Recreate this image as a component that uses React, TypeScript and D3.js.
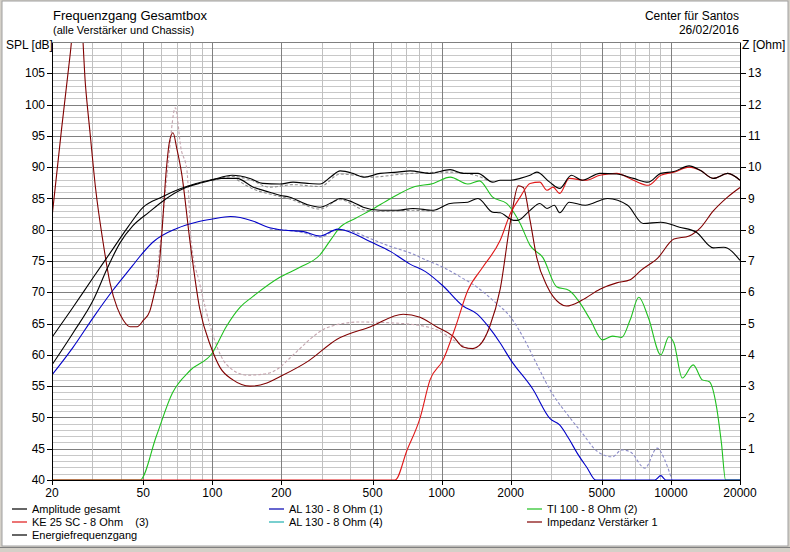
import React from 'react';
import * as d3 from 'd3';

type Pt = [number, number];

// SPL curves [Hz, dB]
const amplitudeGesamt: Pt[] = [
  [20, 62.8], [24.7, 67.6], [30.3, 72.4], [36.5, 76.7], [43, 80.5], [50, 83.6], [60, 85.2], [72, 86.5],
  [85, 87.4], [100, 88.0], [122, 88.7], [146, 88.2], [166, 87.4], [197, 87.3], [225, 87.6], [260, 87.4],
  [295, 87.3], [330, 88.5], [361, 89.4], [410, 89.0], [455, 88.4], [540, 89.0], [640, 89.2], [728, 89.4],
  [890, 89.0], [1090, 89.6], [1240, 89.0], [1440, 89.0], [1670, 87.6], [1800, 87.9], [2000, 87.9],
  [2200, 88.2], [2430, 88.7], [2600, 89.2], [2960, 87.6], [3270, 86.6], [3680, 88.7], [4100, 87.9],
  [4900, 89.0], [5800, 88.9], [6860, 88.2], [7960, 87.6], [9030, 89.0], [10300, 89.3], [12000, 90.2],
  [13400, 89.5], [15300, 88.2], [17700, 89.0], [20000, 87.9],
];

const energieFrequenzgang: Pt[] = [
  [20, 58.4], [24.7, 63.5], [30.3, 68.8], [35, 74.0], [39.6, 77.9], [45, 80.6], [53, 82.8], [62, 84.8],
  [75, 86.6], [90, 87.5], [110, 88.2], [128, 88.2], [151, 86.8], [178, 86.0], [197, 85.5], [218, 85.2],
  [260, 84.0], [295, 83.6], [330, 84.3], [361, 85.0], [410, 84.4], [455, 83.6], [540, 83.1], [640, 83.1],
  [750, 83.4], [920, 83.1], [1090, 84.2], [1300, 84.4], [1440, 85.0], [1670, 82.8], [1800, 82.7],
  [2060, 81.5], [2140, 81.5], [2430, 83.1], [2680, 84.2], [2880, 83.4], [3100, 83.9], [3270, 82.7],
  [3600, 84.4], [4230, 83.9], [5300, 85.0], [6470, 83.9], [7570, 81.0], [9030, 81.2], [10900, 80.4],
  [12900, 79.6], [15300, 77.1], [17000, 77.2], [20000, 75.1],
];

const al130One: Pt[] = [
  [20, 56.8], [24.7, 61.2], [30.3, 66.0], [37, 70.4], [45, 74.3], [48, 75.6], [55, 78.0], [70, 80.2],
  [85, 81.2], [100, 81.7], [120, 82.1], [150, 81.4], [178, 80.3], [197, 80.0], [250, 79.7], [295, 79.0],
  [353, 80.1], [400, 79.6], [487, 78.1], [600, 76.5], [728, 74.5], [850, 73.3], [1015, 71.0],
  [1240, 67.8], [1430, 66.5], [1600, 64.5], [1800, 61.9], [2000, 59.2], [2500, 54.5], [2970, 49.8],
  [3270, 48.8], [3600, 46.5], [3900, 44.3], [4300, 42.0], [4700, 40], [8500, 40], [9030, 40.7],
  [9500, 40], [20000, 40],
];

const ti100: Pt[] = [
  [20, 40], [48.4, 40], [57, 47.0], [67, 53.9], [80, 57.5], [100, 60.3], [115, 64.5], [132, 67.6],
  [150, 69.3], [197, 72.4], [241, 74.0], [295, 76.0], [330, 78.5], [361, 80.4], [420, 81.8], [490, 83.1],
  [600, 85.0], [750, 86.8], [920, 87.4], [1090, 88.4], [1300, 87.3], [1460, 87.8], [1670, 85.2],
  [1920, 84.2], [2200, 81.0], [2430, 77.5], [2770, 75.5], [3170, 70.9], [3600, 70.3], [4010, 68.3],
  [4450, 65.6], [5030, 62.4], [5560, 63.0], [6100, 62.8], [6640, 65.6], [7240, 69.2], [7960, 66.0],
  [9030, 60.0], [9800, 62.9], [10300, 61.9], [11200, 56.3], [12500, 58.4], [13700, 56.0], [14700, 55.7],
  [15800, 51.7], [16600, 45.9], [17300, 40], [20000, 40],
];

const ke25: Pt[] = [
  [20, 40], [627, 40], [707, 44.8], [805, 49.9], [890, 56.0], [1015, 59.2], [1150, 64.5], [1300, 70.3],
  [1510, 74.0], [1800, 78.3], [2000, 82.7], [2200, 85.2], [2430, 87.4], [2680, 87.6], [2880, 86.3],
  [3060, 86.8], [3270, 85.8], [3600, 88.2], [4230, 87.9], [4900, 88.7], [5800, 89.0], [6860, 87.9],
  [7960, 87.1], [9030, 88.7], [10300, 89.2], [12000, 90.0], [13400, 89.5], [15300, 88.2], [17700, 89.0],
  [20000, 87.9],
];

// impedance [Hz, Ohm], right axis
const impedanz: Pt[] = [
  [20, 8.4], [22, 11.2], [24, 13.6], [25.5, 15.2], [26.5, 15.2], [28, 12.6], [29.3, 11.1], [31, 9.3],
  [33.4, 7.6], [35.8, 6.3], [38.5, 5.5], [41, 5.1], [43.8, 4.9], [47, 4.9], [50, 5.1], [53.4, 5.4],
  [56, 6.0], [58, 6.5], [60, 7.7], [63, 9.9], [65, 10.8], [67.4, 11.1], [70, 10.6], [73.5, 9.8],
  [80, 7.6], [88, 5.5], [98.7, 4.25], [108, 3.6], [123, 3.2], [146, 3.0], [173, 3.1], [197, 3.3],
  [262, 3.8], [350, 4.5], [490, 4.9], [680, 5.3], [805, 5.2], [950, 4.9], [1120, 4.6], [1240, 4.25],
  [1370, 4.2], [1460, 4.3], [1620, 4.9], [1800, 6.1], [2000, 8.3], [2160, 9.4], [2270, 9.35],
  [2430, 8.3], [2600, 7.1], [2880, 6.2], [3270, 5.65], [3500, 5.56], [4100, 5.75], [4900, 6.1],
  [5800, 6.3], [6640, 6.4], [7400, 6.7], [8770, 7.1], [10300, 7.7], [12000, 7.8], [13400, 8.05],
  [15300, 8.6], [17700, 9.05], [20000, 9.35],
];

// dashed comparison curves (previous simulation)
const ghostGesamt: Pt[] = [
  [100, 87.8], [122, 88.5], [146, 88.0], [178, 86.8], [225, 87.2], [295, 86.9], [361, 88.9], [420, 88.7],
  [490, 88.4], [680, 88.9], [1090, 89.2], [1400, 88.7], [1600, 87.8],
];
const ghostEnergie: Pt[] = [
  [128, 88.0], [151, 86.5], [178, 85.7], [218, 84.9], [295, 83.3], [361, 84.8], [455, 83.2], [540, 82.9],
  [750, 83.1], [950, 82.9],
];
const ghostAl130: Pt[] = [
  [178, 80.1], [250, 79.5], [295, 78.8], [353, 80.0], [400, 79.8], [487, 78.6], [600, 77.3], [728, 76.3],
  [850, 75.2], [1015, 74.0], [1200, 72.5], [1430, 70.8], [1700, 68.5], [2000, 66.0], [2300, 62.4],
  [2600, 58.5], [2970, 54.4], [3600, 50.1], [4100, 47.5], [4800, 44.5], [5560, 43.7], [6100, 44.8],
  [6640, 44.5], [7700, 41.9], [8700, 45.1], [9400, 43.2], [10100, 40],
];
const ghostImpedanz: Pt[] = [
  [56, 6.0], [60, 7.9], [64, 10.0], [69, 11.9], [73, 10.6], [77.5, 9.9], [81, 7.6], [88, 6.3],
  [101, 4.6], [115, 3.7], [142, 3.35], [173, 3.4], [197, 3.6], [218, 3.9], [325, 4.9], [440, 5.05],
  [680, 5.0], [950, 4.8], [1170, 4.4], [1330, 4.2], [1460, 4.3], [1620, 4.9],
];

const freqTicks = [20, 50, 100, 200, 500, 1000, 2000, 5000, 10000, 20000];
const splTicks = [40, 45, 50, 55, 60, 65, 70, 75, 80, 85, 90, 95, 100, 105];
const ohmTicks = [1, 2, 3, 4, 5, 6, 7, 8, 9, 10, 11, 12, 13];

const legendItems = [
  { label: 'Amplitude gesamt', color: '#000000', col: 0, row: 0 },
  { label: 'AL 130 - 8 Ohm (1)', color: '#0000b0', col: 1, row: 0 },
  { label: 'TI 100 - 8 Ohm (2)', color: '#20c020', col: 2, row: 0 },
  { label: 'KE 25 SC - 8 Ohm    (3)', color: '#e01818', col: 0, row: 1 },
  { label: 'AL 130 - 8 Ohm (4)', color: '#20b0b0', col: 1, row: 1 },
  { label: 'Impedanz Verstärker 1', color: '#800000', col: 2, row: 1 },
  { label: 'Energiefrequenzgang', color: '#000000', col: 0, row: 2 },
];

const W = 790;
const H = 552;
const left = 52, right = 740, top = 42, bottom = 480;
const font = '"Liberation Sans", Arial, sans-serif';

export default function App() {
  const x = d3.scaleLog().domain([20, 20000]).range([left, right]);
  const y = d3.scaleLinear().domain([40, 110]).range([bottom, top]);
  const z = d3.scaleLinear().domain([0, 14]).range([bottom, top]);

  const splLine = d3.line<Pt>().x((d) => x(d[0])).y((d) => y(d[1])).curve(d3.curveMonotoneX);
  const ohmLine = d3.line<Pt>().x((d) => x(d[0])).y((d) => z(d[1])).curve(d3.curveMonotoneX);

  // grid frequencies: every integer multiple per decade
  const gridFreqs: number[] = [];
  [10, 100, 1000, 10000].forEach((dec) => {
    for (let m = 1; m <= 9; m++) {
      const f = dec * m;
      if (f >= 20 && f <= 20000) gridFreqs.push(f);
    }
  });
  gridFreqs.push(20000);
  const dbLines = d3.range(41, 110, 1);

  const curves = [
    { d: splLine(ghostGesamt), color: '#8a8a8a', dash: '3,2' },
    { d: splLine(ghostEnergie), color: '#8a8a8a', dash: '3,2' },
    { d: splLine(ghostAl130), color: '#8c8cc8', dash: '3,2' },
    { d: ohmLine(ghostImpedanz), color: '#c4a4ae', dash: '3,2' },
    { d: splLine(ti100), color: '#20c020' },
    { d: splLine(al130One), color: '#0000c8' },
    { d: ohmLine(impedanz), color: '#800000' },
    { d: splLine(ke25), color: '#e01818' },
    { d: splLine(energieFrequenzgang), color: '#000000' },
    { d: splLine(amplitudeGesamt), color: '#000000' },
  ];

  const legendX = [12, 269, 527];
  const legendY = [509, 522, 535];

  return (
    <svg
      width={W}
      height={H}
      style={{ position: 'absolute', left: 0, top: 0, background: '#ffffff' }}
      fontFamily={font}
    >
      <defs>
        <clipPath id="plot">
          <rect x={left} y={top} width={right - left} height={bottom - top} />
        </clipPath>
      </defs>

      {/* window frame */}
      <rect x={0} y={0} width={W} height={H} fill="#d4d0c8" />
      <rect x={2} y={1} width={W - 4} height={545} fill="#ffffff" stroke="#a0a0a0" />
      <line x1={0} y1={547.5} x2={W} y2={547.5} stroke="#808080" />

      {/* horizontal grid */}
      {dbLines.map((v) => (
        <line
          key={'h' + v}
          x1={left}
          x2={right}
          y1={Math.round(y(v)) + 0.5}
          y2={Math.round(y(v)) + 0.5}
          stroke={v % 5 === 0 ? '#808080' : '#c8c8c8'}
          shapeRendering="crispEdges"
        />
      ))}
      {/* vertical grid */}
      {gridFreqs.map((f) => (
        <line
          key={'v' + f}
          x1={Math.round(x(f)) + 0.5}
          x2={Math.round(x(f)) + 0.5}
          y1={top}
          y2={bottom}
          stroke={freqTicks.includes(f) ? '#808080' : '#c0c0c0'}
          shapeRendering="crispEdges"
        />
      ))}

      {/* curves */}
      <g clipPath="url(#plot)" fill="none">
        {curves.map((c, i) => (
          <path key={i} d={c.d ?? ''} stroke={c.color} strokeWidth={1.1} strokeDasharray={c.dash} />
        ))}
      </g>

      {/* axes */}
      <g stroke="#000000" shapeRendering="crispEdges">
        <line x1={left + 0.5} x2={left + 0.5} y1={top} y2={bottom + 1} />
        <line x1={right + 0.5} x2={right + 0.5} y1={top} y2={bottom + 1} />
        <line x1={left} x2={right + 1} y1={bottom + 0.5} y2={bottom + 0.5} />
        <line x1={left} x2={right + 1} y1={top + 0.5} y2={top + 0.5} stroke="#808080" />
      </g>

      {/* left axis */}
      {splTicks.map((v) => (
        <g key={'l' + v}>
          <line x1={left - 5} x2={left} y1={Math.round(y(v)) + 0.5} y2={Math.round(y(v)) + 0.5} stroke="#000" />
          <text x={left - 7} y={y(v)} dy="0.35em" textAnchor="end" fontSize={12}>
            {v}
          </text>
        </g>
      ))}
      <text x={6} y={49} fontSize={12}>SPL [dB]</text>

      {/* right axis */}
      {ohmTicks.map((v) => (
        <g key={'r' + v}>
          <line x1={right} x2={right + 6} y1={Math.round(z(v)) + 0.5} y2={Math.round(z(v)) + 0.5} stroke="#000" />
          <text x={right + 8} y={z(v)} dy="0.35em" fontSize={12}>
            {v}
          </text>
        </g>
      ))}
      <text x={742} y={49} fontSize={12}>Z [Ohm]</text>

      {/* bottom axis */}
      {freqTicks.map((f) => (
        <g key={'b' + f}>
          <line x1={Math.round(x(f)) + 0.5} x2={Math.round(x(f)) + 0.5} y1={bottom} y2={bottom + 5} stroke="#000" />
          <text x={x(f)} y={497} textAnchor="middle" fontSize={12}>
            {f}
          </text>
        </g>
      ))}

      {/* titles */}
      <text x={53} y={20} fontSize={13}>Frequenzgang Gesamtbox</text>
      <text x={53} y={34} fontSize={11}>(alle Verstärker und Chassis)</text>
      <text x={739} y={20} fontSize={12} textAnchor="end">Center für Santos</text>
      <text x={739} y={34} fontSize={12} textAnchor="end">26/02/2016</text>

      {/* legend */}
      {legendItems.map((it) => (
        <g key={it.label} transform={`translate(${legendX[it.col]},${legendY[it.row]})`}>
          <line x1={0} x2={15} y1={0} y2={0} stroke={it.color} strokeWidth={1.2} />
          <text x={20} y={0} dy="0.35em" fontSize={11} style={{ whiteSpace: 'pre' }}>
            {it.label}
          </text>
        </g>
      ))}
    </svg>
  );
}
